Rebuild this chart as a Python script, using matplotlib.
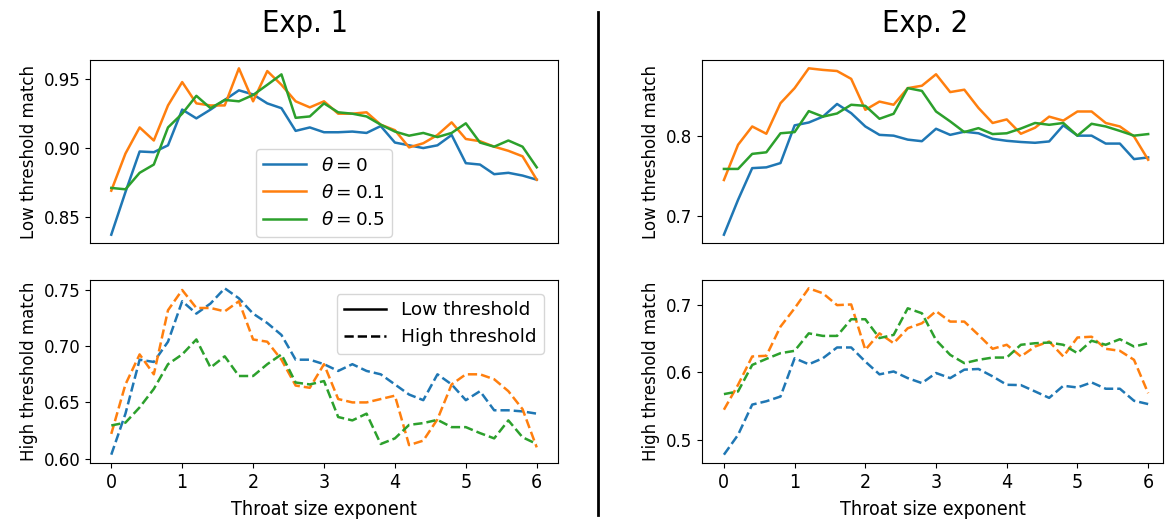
import numpy as np
import matplotlib
matplotlib.use("Agg")
import matplotlib.pyplot as plt
from matplotlib import font_manager
from matplotlib.lines import Line2D
from matplotlib.ticker import MultipleLocator, FormatStrFormatter

# ---------------- data ----------------
x = np.round(np.arange(0, 6.01, 0.2), 1)
thetas = ["$\\theta = 0$", "$\\theta = 0.1$", "$\\theta = 0.5$"]

exp1_low_t0 = [0.837, 0.868, 0.8975, 0.897, 0.902, 0.928, 0.9216, 0.928, 0.935, 0.942, 0.939,
               0.9325, 0.929, 0.9125, 0.915, 0.9115, 0.9115, 0.912, 0.911, 0.916, 0.904,
               0.902, 0.900, 0.902, 0.9095, 0.889, 0.888, 0.881, 0.882, 0.880, 0.877]
exp1_low_t01 = [0.869, 0.896, 0.915, 0.9055, 0.931, 0.948, 0.9325, 0.931, 0.931, 0.958, 0.934,
                0.956, 0.946, 0.934, 0.9296, 0.934, 0.925, 0.925, 0.926, 0.917, 0.913,
                0.9005, 0.9035, 0.9095, 0.9187, 0.9066, 0.905, 0.901, 0.898, 0.894, 0.877]
exp1_low_t05 = [0.871, 0.870, 0.882, 0.888, 0.915, 0.925, 0.938, 0.929, 0.935, 0.934, 0.9386,
                0.946, 0.9536, 0.922, 0.923, 0.9325, 0.926, 0.925, 0.923, 0.917, 0.912,
                0.909, 0.911, 0.908, 0.911, 0.918, 0.904, 0.901, 0.9055, 0.901, 0.886]

exp1_high_t0 = [0.6035, 0.640, 0.688, 0.686, 0.704, 0.740, 0.729, 0.738, 0.7515, 0.7426, 0.729,
                0.7206, 0.710, 0.688, 0.688, 0.684, 0.678, 0.684, 0.678, 0.675, 0.666,
                0.657, 0.652, 0.675, 0.666, 0.652, 0.660, 0.643, 0.643, 0.642, 0.640]
exp1_high_t01 = [0.622, 0.666, 0.6927, 0.675, 0.732, 0.750, 0.734, 0.734, 0.731, 0.740, 0.706,
                 0.704, 0.688, 0.665, 0.663, 0.684, 0.653, 0.650, 0.650, 0.653, 0.656,
                 0.612, 0.616, 0.635, 0.666, 0.675, 0.675, 0.6706, 0.660, 0.644, 0.610]
exp1_high_t05 = [0.6295, 0.632, 0.6456, 0.662, 0.684, 0.6927, 0.706, 0.681, 0.691, 0.6735, 0.6735,
                 0.684, 0.6927, 0.6677, 0.666, 0.669, 0.637, 0.634, 0.640, 0.613, 0.618,
                 0.630, 0.6316, 0.6345, 0.628, 0.628, 0.6227, 0.618, 0.634, 0.619, 0.613]

exp2_low_t0 = [0.676, 0.720, 0.760, 0.761, 0.7664, 0.814, 0.8176, 0.825, 0.841, 0.8294, 0.8126,
               0.802, 0.801, 0.796, 0.794, 0.8097, 0.802, 0.806, 0.804, 0.797, 0.7945,
               0.793, 0.792, 0.7937, 0.814, 0.801, 0.801, 0.791, 0.791, 0.7714, 0.7735]
exp2_low_t01 = [0.745, 0.7895, 0.8126, 0.8034, 0.842, 0.861, 0.886, 0.884, 0.8826, 0.8727, 0.8336,
                0.844, 0.840, 0.861, 0.864, 0.8785, 0.856, 0.859, 0.836, 0.817, 0.8215,
                0.8034, 0.811, 0.825, 0.820, 0.8315, 0.8315, 0.817, 0.8126, 0.800, 0.7706]
exp2_low_t05 = [0.759, 0.759, 0.778, 0.780, 0.804, 0.8055, 0.832, 0.825, 0.829, 0.840, 0.8386,
                0.8223, 0.8286, 0.861, 0.8575, 0.8315, 0.819, 0.8055, 0.8105, 0.803, 0.804,
                0.810, 0.817, 0.8147, 0.817, 0.801, 0.816, 0.8126, 0.807, 0.801, 0.803]

exp2_high_t0 = [0.4775, 0.507, 0.552, 0.557, 0.564, 0.621, 0.612, 0.621, 0.637, 0.637, 0.616,
                0.597, 0.6013, 0.5914, 0.584, 0.599, 0.5914, 0.604, 0.605, 0.594, 0.5815,
                0.581, 0.5716, 0.562, 0.580, 0.5775, 0.585, 0.5756, 0.5756, 0.5577, 0.5528]
exp2_high_t01 = [0.5444, 0.5815, 0.6236, 0.6246, 0.668, 0.6953, 0.725, 0.7176, 0.700, 0.701, 0.6335,
                 0.658, 0.6433, 0.6656, 0.673, 0.691, 0.6755, 0.6755, 0.6557, 0.635, 0.641,
                 0.6236, 0.6384, 0.6458, 0.6236, 0.6518, 0.653, 0.635, 0.632, 0.6186, 0.569]
exp2_high_t05 = [0.5676, 0.5716, 0.611, 0.620, 0.6285, 0.632, 0.658, 0.6542, 0.6542, 0.679, 0.679,
                 0.651, 0.6557, 0.6953, 0.6879, 0.648, 0.626, 0.6137, 0.6186, 0.622, 0.622,
                 0.641, 0.6433, 0.6443, 0.641, 0.6285, 0.647, 0.641, 0.6493, 0.6384, 0.6433]

titles = ["Exp. 1", "Exp. 2"]
xlabel = "Throat size exponent"
ylabels = ["Low threshold match", "High threshold match"]
style_labels = ["Low threshold", "High threshold"]
xticks = [0, 1, 2, 3, 4, 5, 6]

colors = ["#1f77b4", "#ff7f0e", "#2ca02c"]

# ---------------- fonts ----------------
fonts = font_manager.fontManager.ttflist
has_cond = any(f.name == "DejaVu Sans" and f.stretch in ("condensed", "semi-condensed", 500 - 100, 300)
               for f in fonts)
has_narrow = any(f.name == "Liberation Sans Narrow" for f in fonts)
if has_narrow:
    cond = dict(fontfamily="Liberation Sans Narrow")
    tick_fs, xl_fs, title_fs = 15, 15, 24
elif has_cond:
    cond = dict(fontfamily="DejaVu Sans", fontstretch="condensed")
    tick_fs, xl_fs, title_fs = 14, 14, 22
else:
    cond = dict(fontfamily="DejaVu Sans")
    tick_fs, xl_fs, title_fs = 13, 13, 20

plt.rcParams["font.family"] = ["DejaVu Sans"]
FS = 12
LFS = 13.3

W, H = 1165, 521
fig = plt.figure(figsize=(W / 100, H / 100), dpi=100)

def px_axes(x0, y0, x1, y1):
    return fig.add_axes([x0 / W, 1 - y1 / H, (x1 - x0) / W, (y1 - y0) / H])

ax_tl = px_axes(90, 60, 558, 243)
ax_bl = px_axes(90, 280, 558, 463)
ax_tr = px_axes(702, 60, 1163, 243)
ax_br = px_axes(702, 280, 1163, 463)

data = {
    ax_tl: [exp1_low_t0, exp1_low_t01, exp1_low_t05],
    ax_bl: [exp1_high_t0, exp1_high_t01, exp1_high_t05],
    ax_tr: [exp2_low_t0, exp2_low_t01, exp2_low_t05],
    ax_br: [exp2_high_t0, exp2_high_t01, exp2_high_t05],
}

lw = 1.8
for ax in [ax_tl, ax_tr]:
    for s, c, lab in zip(data[ax], colors, thetas):
        ax.plot(x, s, color=c, lw=lw, label=lab)
for ax in [ax_bl, ax_br]:
    for s, c, lab in zip(data[ax], colors, thetas):
        ax.plot(x, s, color=c, lw=lw, ls="--", label=lab)

ax_tl.set_xlim(-0.3, 6.3)
ax_bl.set_xlim(-0.3, 6.3)
ax_tr.set_xlim(-0.31, 6.21)
ax_br.set_xlim(-0.31, 6.21)

for ax, step, fmt in [(ax_tl, 0.05, "%.2f"), (ax_bl, 0.05, "%.2f"),
                      (ax_tr, 0.1, "%.1f"), (ax_br, 0.1, "%.1f")]:
    ax.yaxis.set_major_locator(MultipleLocator(step))
    ax.yaxis.set_major_formatter(FormatStrFormatter(fmt))
    ax.tick_params(axis="y", labelsize=FS)

for ax in [ax_tl, ax_tr]:
    ax.set_xticks([])
    ax.set_ylabel(ylabels[0], fontsize=FS)
for ax in [ax_bl, ax_br]:
    ax.set_xticks(xticks)
    ax.set_xticklabels([str(t) for t in xticks], fontsize=tick_fs, **cond)
    ax.set_xlabel(xlabel, fontsize=xl_fs, labelpad=6, **cond)
    ax.set_ylabel(ylabels[1], fontsize=FS)

ax_tl.legend(loc="lower center", fontsize=LFS, handlelength=2.3, borderaxespad=0.35)
style_handles = [Line2D([], [], color="black", lw=lw, ls="-"),
                 Line2D([], [], color="black", lw=lw, ls="--")]
ax_bl.legend(style_handles, style_labels, loc="upper right", fontsize=LFS,
             handlelength=2.3, borderaxespad=0.75)

fig.text(305 / W, 1 - 24 / H, titles[0], ha="center", va="center", fontsize=title_fs, **cond)
fig.text(925 / W, 1 - 24 / H, titles[1], ha="center", va="center", fontsize=title_fs, **cond)

fig.add_artist(Line2D([598 / W, 598 / W], [1 - 12 / H, 1 - 515 / H],
                      transform=fig.transFigure, color="black", lw=2))

fig.savefig("out.png", dpi=100)
